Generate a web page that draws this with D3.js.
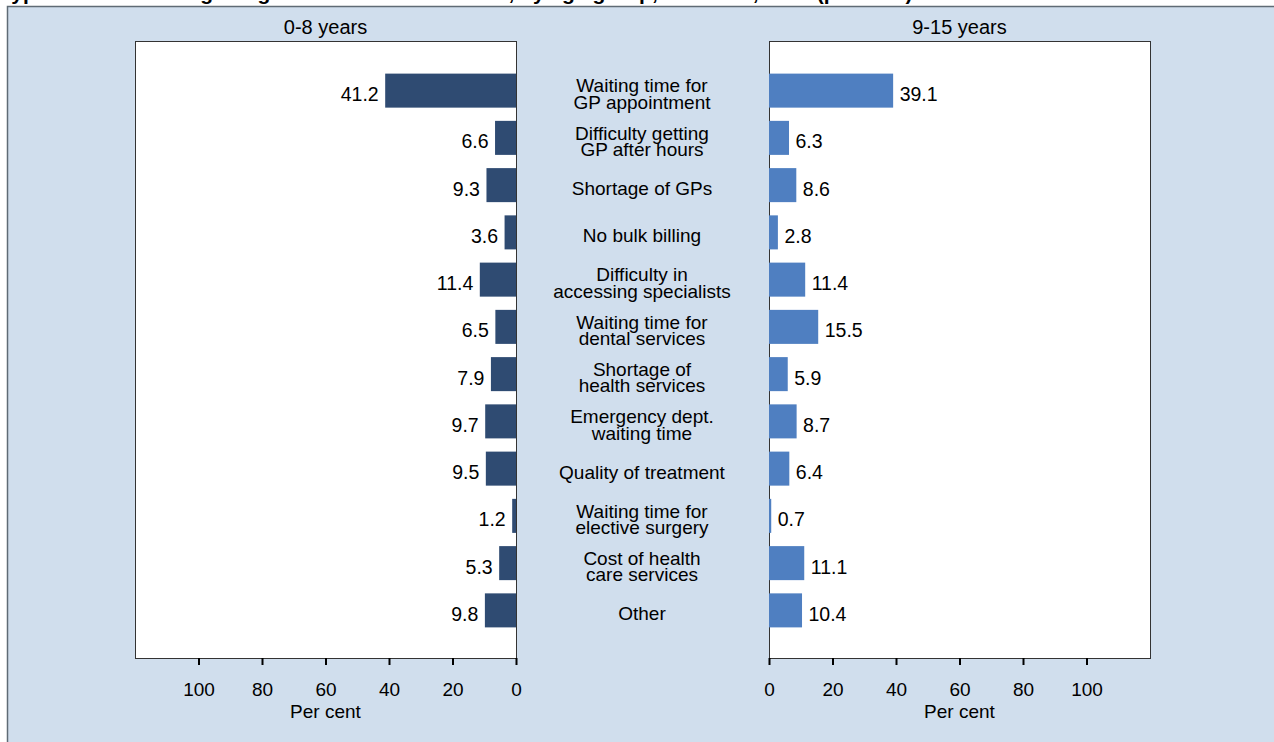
<!DOCTYPE html>
<html>
<head>
<meta charset="utf-8">
<script src="https://cdn.jsdelivr.net/npm/d3@7"></script>
<style>
  html, body { margin: 0; padding: 0; background: #ffffff; }
  svg { display: block; }
  text { font-family: "Liberation Sans", Arial, sans-serif; fill: #000; }
</style>
</head>
<body>
<svg id="chart" width="1274" height="742"></svg>
<script>
// Barriers to health care, per cent of children by age group
const categories = [
  ["Waiting time for", "GP appointment"],
  ["Difficulty getting", "GP after hours"],
  ["Shortage of GPs"],
  ["No bulk billing"],
  ["Difficulty in", "accessing specialists"],
  ["Waiting time for", "dental services"],
  ["Shortage of", "health services"],
  ["Emergency dept.", "waiting time"],
  ["Quality of treatment"],
  ["Waiting time for", "elective surgery"],
  ["Cost of health", "care services"],
  ["Other"]
];
const groups = ["0-8 years", "9-15 years"];
const young = [41.2, 6.6, 9.3, 3.6, 11.4, 6.5, 7.9, 9.7, 9.5, 1.2, 5.3, 9.8];
const older = [39.1, 6.3, 8.6, 2.8, 11.4, 15.5, 5.9, 8.7, 6.4, 0.7, 11.1, 10.4];
const tickValues = [0, 20, 40, 60, 80, 100];
const axisTitle = "Per cent";
const title = "Types of barriers to getting health care for children, by age group, Australia, 2005 (per cent)";

const svg = d3.select("#chart");
const W = 1274, H = 742;

// outer panel
svg.append("rect")
  .attr("x", 7.5).attr("y", 6.5)
  .attr("width", W + 10).attr("height", H + 10)
  .attr("fill", "#d0deed")
  .attr("stroke", "#5f6b75").attr("stroke-width", 1.5);

svg.append("text")
  .attr("x", 0).attr("y", 0)
  .attr("font-size", 21).attr("font-weight", "bold")
  .text(title);

const plotTop = 41, plotBottom = 658;
const panels = [
  { x0: 135, x1: 516, values: young, color: "#2f4b72", dir: -1, name: groups[0] },
  { x0: 769, x1: 1150, values: older, color: "#4f7fc1", dir: 1, name: groups[1] }
];

const y = d3.scaleBand()
  .domain(d3.range(categories.length))
  .range([67, 634])
  .paddingInner(0.28)
  .paddingOuter(0.14);

panels.forEach(p => {
  const x = d3.scaleLinear()
    .domain([0, 120])
    .range(p.dir < 0 ? [p.x1, p.x0] : [p.x0, p.x1]);

  const g = svg.append("g");
  g.append("rect")
    .attr("x", p.x0 + 0.5).attr("y", plotTop + 0.5)
    .attr("width", p.x1 - p.x0).attr("height", plotBottom - plotTop)
    .attr("fill", "#fff").attr("stroke", "#333").attr("stroke-width", 1);

  g.selectAll("rect.bar").data(p.values).join("rect")
    .attr("class", "bar")
    .attr("x", d => Math.min(x(0), x(d)))
    .attr("width", d => Math.abs(x(d) - x(0)))
    .attr("y", (d, i) => y(i))
    .attr("height", y.bandwidth())
    .attr("fill", p.color);

  g.selectAll("text.val").data(p.values).join("text")
    .attr("class", "val")
    .attr("x", d => x(d) + p.dir * 6.5)
    .attr("y", (d, i) => y(i) + y.bandwidth() / 2 + 10.5)
    .attr("text-anchor", p.dir < 0 ? "end" : "start")
    .attr("font-size", 19.5)
    .text(d => d.toFixed(1));

  const axis = d3.axisBottom(x).tickValues(tickValues).tickSize(7).tickPadding(18).tickSizeOuter(0);
  const ax = g.append("g").attr("transform", `translate(0,${plotBottom})`).call(axis);
  ax.select(".domain").remove();
  ax.selectAll(".tick line").attr("stroke", "#000").attr("stroke-width", 2);
  ax.selectAll(".tick text")
    .attr("font-size", 19)
    .attr("font-family", "Liberation Sans, Arial, sans-serif")
    .attr("fill", "#000");

  g.append("text")
    .attr("x", (p.x0 + p.x1) / 2)
    .attr("y", 718)
    .attr("text-anchor", "middle")
    .attr("font-size", 19)
    .text(axisTitle);

  g.append("text")
    .attr("x", (p.x0 + p.x1) / 2)
    .attr("y", 34)
    .attr("text-anchor", "middle")
    .attr("font-size", 20)
    .text(p.name);
});

// category labels between the panels
const mid = 642;
const lab = svg.append("g");
categories.forEach((lines, i) => {
  const cy = y(i) + y.bandwidth() / 2;
  const t = lab.append("text")
    .attr("text-anchor", "middle")
    .attr("font-size", 19);
  const n = lines.length;
  lines.forEach((s, k) => {
    t.append("tspan")
      .attr("x", mid)
      .attr("y", cy + 10 + (k - (n - 1) / 2) * 16.5)
      .text(s);
  });
});
</script>
</body>
</html>
